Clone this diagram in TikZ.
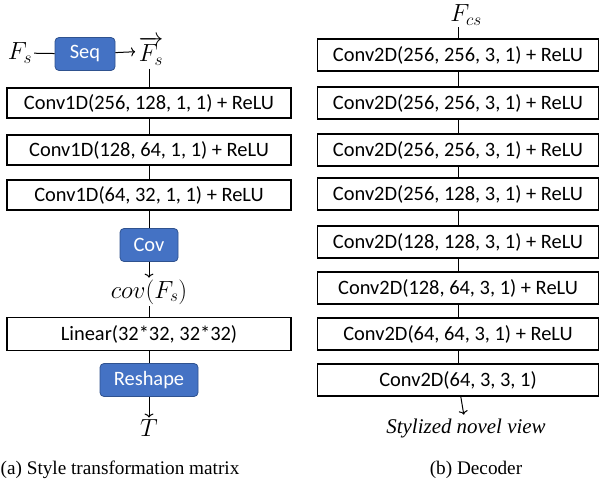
\documentclass[tikz,border=0pt]{standalone}
\usepackage{fontspec}
\setmainfont{Liberation Serif}
\newfontfamily\boxfont{Carlito}
\usepackage{tikz}
\usetikzlibrary{positioning}
\usetikzlibrary{arrows.meta}
\definecolor{opblue}{HTML}{4472C4}
\definecolor{opedge}{HTML}{2F528F}
\tikzset{layer/.style={shape=rectangle, draw=black, line width=1.6bp, inner sep=0pt,
		font=\boxfont\fontsize{20.5}{24}\selectfont}}
\tikzset{op/.style={shape=rectangle, rounded corners=4bp, fill=opblue, draw=opedge, line width=0.8bp,
		text=white, inner sep=0pt, font=\boxfont\fontsize{20.5}{24}\selectfont}}
\tikzset{var/.style={inner sep=1.5pt, font=\fontsize{23}{26}\selectfont}}

\begin{document}
\begin{tikzpicture}[x=1bp, y=-1bp, line width=1bp, >={To[length=4bp,width=9bp]}]
		\useasboundingbox (0,0) rectangle (602,481);
		% (a) style transformation matrix
		\node[var] (fs) at (20,53) {$F_s$};
		\node[op, minimum width=60bp, minimum height=33bp] (seq) at (85,54) {Seq};
		\node[var, inner sep=3pt] (fsv) at (151,51) {$\overrightarrow{F_s}$};
		\node[layer, minimum width=284bp, minimum height=30bp] (c1) at (149,103) {Conv1D(256, 128, 1, 1) + ReLU};
		\node[layer, minimum width=284bp, minimum height=30bp] (c2) at (149,150) {Conv1D(128, 64, 1, 1) + ReLU};
		\node[layer, minimum width=284bp, minimum height=30bp] (c3) at (149,195) {Conv1D(64, 32, 1, 1) + ReLU};
		\node[op, minimum width=58bp, minimum height=33bp] (cov) at (149,245) {Cov};
		\node[var] (covf) at (149,292) {$cov(F_s)$};
		\node[layer, minimum width=284bp, minimum height=33bp] (lin) at (149,334) {Linear(32*32, 32*32)};
		\node[op, minimum width=98bp, minimum height=33bp] (resh) at (149,380) {Reshape};
		\node[var] (T) at (149,428) {$T$};
		\path (fs) edge (seq);
		\path [->] (seq) edge (fsv);
		\path (fsv.south -| c1.north) edge (c1);
		\path (c1) edge (c2);
		\path (c2) edge (c3);
		\path (c3) edge (cov);
		\path [->] (cov) edge (covf);
		\path (covf) edge (lin);
		\path (lin) edge (resh);
		\path [->] (resh) edge (T);
		% (b) decoder
		\node[var] (fcs) at (466,15) {$F_{cs}$};
		\node[layer, minimum width=281bp, minimum height=32bp] (d1) at (458,55) {Conv2D(256, 256, 3, 1) + ReLU};
		\node[layer, minimum width=281bp, minimum height=32bp] (d2) at (458,103) {Conv2D(256, 256, 3, 1) + ReLU};
		\node[layer, minimum width=281bp, minimum height=32bp] (d3) at (458,150) {Conv2D(256, 256, 3, 1) + ReLU};
		\node[layer, minimum width=281bp, minimum height=32bp] (d4) at (458,194) {Conv2D(256, 128, 3, 1) + ReLU};
		\node[layer, minimum width=281bp, minimum height=32bp] (d5) at (458,242) {Conv2D(128, 128, 3, 1) + ReLU};
		\node[layer, minimum width=281bp, minimum height=32bp] (d6) at (458,288) {Conv2D(128, 64, 3, 1) + ReLU};
		\node[layer, minimum width=281bp, minimum height=32bp] (d7) at (458,334) {Conv2D(64, 64, 3, 1) + ReLU};
		\node[layer, minimum width=281bp, minimum height=32bp] (d8) at (458,380) {Conv2D(64, 3, 3, 1)};
		\node[font=\itshape\fontsize{21}{24}\selectfont] (out) at (466,428) {Stylized novel view};
		\path (fcs.south -| d1.north) edge (d1);
		\path (d1) edge (d2);
		\path (d2) edge (d3);
		\path (d3) edge (d4);
		\path (d4) edge (d5);
		\path (d5) edge (d6);
		\path (d6) edge (d7);
		\path (d7) edge (d8);
		\path [->] (d8) edge (out);
		% captions
		\node[font=\fontsize{19.3}{22}\selectfont] (capa) at (120,470) {(a) Style transformation matrix};
		\node[font=\fontsize{19.3}{22}\selectfont] (capb) at (476,470) {(b) Decoder};
	\end{tikzpicture}
\end{document}
